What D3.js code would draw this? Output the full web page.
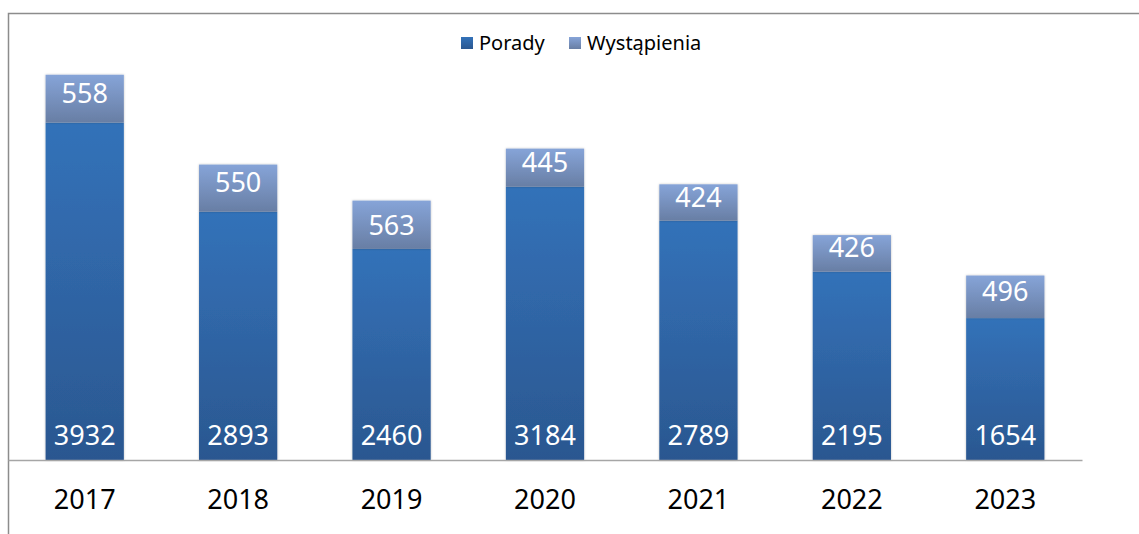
<!DOCTYPE html>
<html>
<head>
<meta charset="utf-8">
<script src="https://cdn.jsdelivr.net/npm/d3@7"></script>
<style>
  body { margin: 0; background: #fff; }
  svg { display: block; font-family: "Noto Sans", "Open Sans", sans-serif; }
</style>
</head>
<body>
<svg width="1139" height="534"></svg>
<script>
// chart values
const years = ["2017", "2018", "2019", "2020", "2021", "2022", "2023"];
const porady = [3932, 2893, 2460, 3184, 2789, 2195, 1654];
const wystapienia = [558, 550, 563, 445, 424, 426, 496];
const seriesNames = ["Porady", "Wystąpienia"];

const svg = d3.select("svg"),
    margin = {top: 31, right: 57, bottom: 74, left: 8},
    width = +svg.attr("width") - margin.left - margin.right,
    height = +svg.attr("height") - margin.top - margin.bottom;

const data = years.map((y, i) => ({year: y, Porady: porady[i], "Wystąpienia": wystapienia[i]}));
const stacked = d3.stack().keys(seriesNames)(data);

const x = d3.scaleBand().domain(years).range([0, width]).paddingInner(0.49).paddingOuter(0.245);
const y = d3.scaleLinear().domain([0, 5000]).range([height, 0]);

// gradients per series
const defs = svg.append("defs");
const grads = [
  {id: "gPorady", top: "#3372b9", bottom: "#2b5790"},
  {id: "gWyst", top: "#86a4d8", bottom: "#687ea4"}
];
grads.forEach(g => {
  const lg = defs.append("linearGradient").attr("id", g.id)
      .attr("x1", 0).attr("y1", 0).attr("x2", 0).attr("y2", 1);
  lg.append("stop").attr("offset", "0%").attr("stop-color", g.top);
  lg.append("stop").attr("offset", "100%").attr("stop-color", g.bottom);
});
const shadow = defs.append("filter").attr("id", "shadow")
    .attr("x", "-10%").attr("y", "-10%").attr("width", "120%").attr("height", "120%");
shadow.append("feDropShadow").attr("dx", 0).attr("dy", 0).attr("stdDeviation", 1.2)
    .attr("flood-color", "#000").attr("flood-opacity", 0.25);

// frame (cropped on right and bottom)
svg.append("path")
    .attr("d", "M8.5,534V13.5H1139")
    .attr("fill", "none").attr("stroke", "#8c8c8c").attr("stroke-width", 1.5);

const g = svg.append("g").attr("transform", `translate(${margin.left},${margin.top})`);

const fills = ["url(#gPorady)", "url(#gWyst)"];

stacked.forEach((layer, li) => {
  const lg = g.append("g");
  lg.selectAll("rect")
    .data(layer)
    .join("rect")
      .attr("x", d => x(d.data.year))
      .attr("y", d => y(d[1]))
      .attr("width", x.bandwidth())
      .attr("height", d => y(d[0]) - y(d[1]))
      .attr("fill", fills[li])
      .style("filter", "url(#shadow)");
});

// labels
g.append("g").selectAll("text")
  .data(stacked[0])
  .join("text")
    .attr("x", d => x(d.data.year) + x.bandwidth() / 2)
    .attr("y", d => y(d[0]) - 15)
    .attr("text-anchor", "middle")
    .attr("fill", "#fff")
    .attr("font-size", 27)
    .text(d => d[1] - d[0]);

g.append("g").selectAll("text")
  .data(stacked[1])
  .join("text")
    .attr("x", d => x(d.data.year) + x.bandwidth() / 2)
    .attr("y", d => {
      const h = y(d[0]) - y(d[1]);
      const mid = y(d[1]) + h / 2 - (h < 48 ? 6 : 0);
      return mid + 10;
    })
    .attr("text-anchor", "middle")
    .attr("fill", "#fff")
    .attr("font-size", 27)
    .text(d => d[1] - d[0]);

// x axis
const xAxis = g.append("g")
    .attr("transform", `translate(0,${height})`)
    .call(d3.axisBottom(x).tickSize(0).tickPadding(0));
xAxis.select(".domain").attr("stroke", "#a6a6a6").attr("stroke-width", 1.3);
xAxis.selectAll("text")
    .attr("dy", 0)
    .attr("y", 49)
    .attr("font-size", 27)
    .attr("font-family", "\"Noto Sans\", sans-serif")
    .attr("fill", "#000");

// legend
const legend = svg.append("g").attr("transform", "translate(461,37)");
const legX = [0, 108];
seriesNames.forEach((name, i) => {
  const item = legend.append("g").attr("transform", `translate(${legX[i]},0)`);
  item.append("rect").attr("width", 12).attr("height", 12).attr("fill", fills[i]);
  item.append("text").attr("x", 18).attr("y", 12.5)
      .attr("font-size", 20).attr("fill", "#000").text(name);
});
</script>
</body>
</html>
